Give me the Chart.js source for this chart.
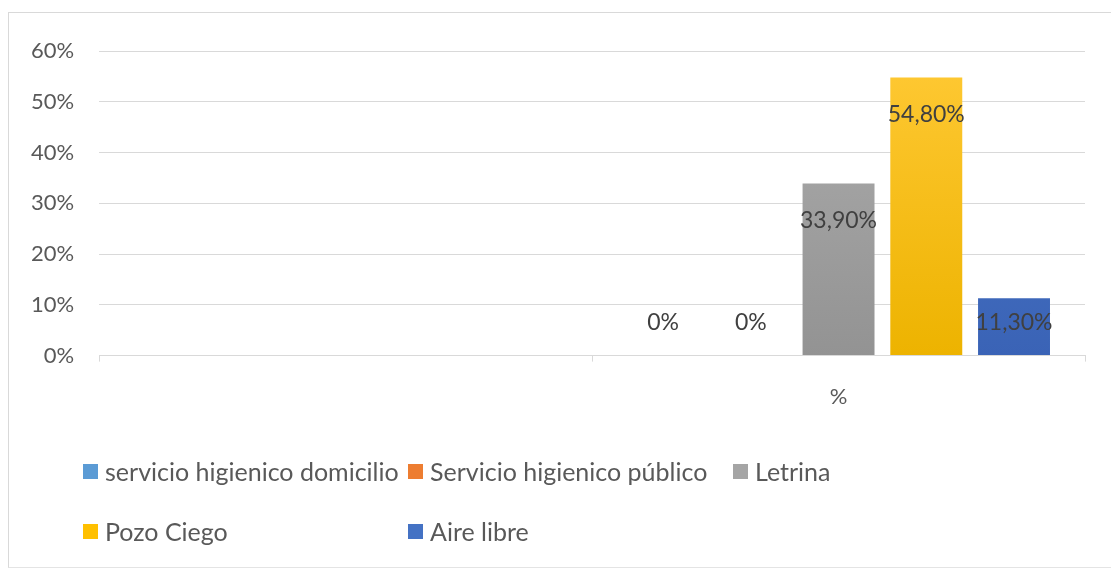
<!DOCTYPE html>
<html>
<head>
<meta charset="utf-8">
<script src="https://cdn.jsdelivr.net/npm/chart.js@4.4.1/dist/chart.umd.min.js"></script>
<style>
  body{margin:0;background:#fff;}
  #wrap{position:relative;width:1111px;height:570px;overflow:hidden;}
  #frame{position:absolute;left:8px;top:12px;width:1110px;height:554px;border-left:1px solid #d9d9d9;border-top:1px solid #d9d9d9;border-bottom:1px solid #e4e4e4;}
  #legend{position:absolute;left:83px;top:456px;display:grid;grid-template-columns:325px 325px 325px;row-gap:30px;font-family:Lato,sans-serif;font-size:25px;color:#595959;}
  #legend div{display:flex;align-items:center;height:30px;white-space:nowrap;}
  #legend span.box{display:inline-block;width:15px;height:15px;margin-right:7px;}
</style>
</head>
<body>
<div id="wrap">
  <div id="frame"></div>
  <canvas id="chart"></canvas>
  <div id="legend"></div>
</div>
<script>
// categories (first one is an empty row, like in the sheet)
const categories = ["", "%"];
const seriesNames = ["servicio higienico domicilio", "Servicio higienico público", "Letrina", "Pozo Ciego", "Aire libre"];
const domicilio = [null, 0];
const publico = [null, 0];
const letrina = [null, 0.339];
const pozoCiego = [null, 0.548];
const aireLibre = [null, 0.113];
const yTicks = [0, 0.1, 0.2, 0.3, 0.4, 0.5, 0.6];

const colors = ["#5B9BD5", "#ED7D31", "#A5A5A5", "#FFC000", "#4472C4"];
const topColors = ["#6aa6dc", "#f08a45", "#adadad", "#ffc935", "#4c79c9"];
const bottomColors = ["#5090cc", "#e07225", "#939393", "#edb300", "#3a63b6"];

const seriesValues = [domicilio, publico, letrina, pozoCiego, aireLibre];

function fmt(v){
  if(v===0) return "0%";
  return (v*100).toFixed(2).replace(".", ",") + "%";
}

const datasets = seriesValues.map((vals, i) => ({
  label: seriesNames[i],
  data: vals,
  backgroundColor: (ctx) => {
    const area = ctx.chart.chartArea;
    if(!area) return colors[i];
    const g = ctx.chart.ctx.createLinearGradient(0, area.top, 0, area.bottom);
    g.addColorStop(0, topColors[i]);
    g.addColorStop(1, bottomColors[i]);
    return g;
  },
  categoryPercentage: 0.89,
  barPercentage: 0.82
}));

const labelPlugin = {
  id: "barLabels",
  afterDatasetsDraw(chart){
    const c = chart.ctx;
    const base = chart.scales.y.getPixelForValue(0);
    c.save();
    c.font = "23px Lato";
    c.fillStyle = "#404040";
    c.textAlign = "center";
    c.textBaseline = "middle";
    chart.data.datasets.forEach((ds, i) => {
      const meta = chart.getDatasetMeta(i);
      ds.data.forEach((v, j) => {
        if(v === null) return;
        const el = meta.data[j];
        const y = Math.min(el.y + 37, base - 33);
        c.fillText(fmt(v), el.x, y);
      });
    });
    c.restore();
  }
};

Chart.defaults.font.family = "Lato";
Chart.defaults.font.size = 22;
Chart.defaults.color = "#595959";

new Chart(document.getElementById("chart"), {
  type: "bar",
  data: { labels: categories, datasets: datasets },
  options: {
    responsive: true,
    maintainAspectRatio: false,
    animation: false,
    layout: { padding: { left: 6, right: 26, top: 51, bottom: 138 } },
    plugins: { legend: { display: false }, tooltip: { enabled: false } },
    scales: {
      x: {
        grid: { display: true, drawOnChartArea: false, drawTicks: true, tickLength: 6, color: "#d9d9d9", offset: true },
        border: { display: true, color: "#d9d9d9" },
        ticks: { padding: 22, color: "#595959" }
      },
      y: {
        min: 0,
        max: 0.6,
        afterBuildTicks: (axis) => { axis.ticks = yTicks.map(v => ({ value: v })); },
        grid: { color: "#d9d9d9", drawTicks: false },
        border: { display: false },
        ticks: { padding: 25, color: "#595959", callback: (v) => Math.round(v*100) + "%" }
      }
    }
  },
  plugins: [labelPlugin]
});

// legend in Excel's fixed grid
const legend = document.getElementById("legend");
seriesNames.forEach((name, i) => {
  const d = document.createElement("div");
  d.innerHTML = '<span class="box" style="background:' + colors[i] + '"></span>' + name;
  legend.appendChild(d);
});
</script>
</body>
</html>
